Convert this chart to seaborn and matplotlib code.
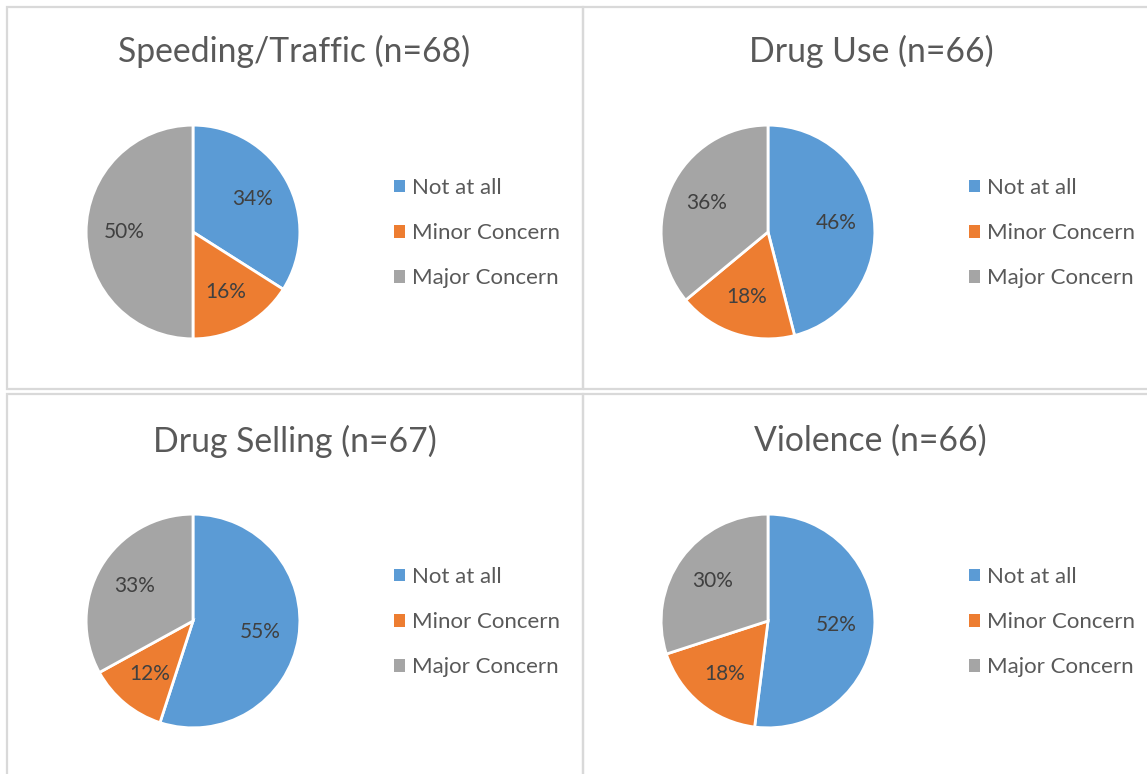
import matplotlib
matplotlib.use("Agg")
import matplotlib.pyplot as plt
import seaborn as sns
from matplotlib.patches import Rectangle, Patch

sns.set_theme(style="white")
plt.rcParams['font.family'] = ['Lato', 'DejaVu Sans']

categories = ["Not at all", "Minor Concern", "Major Concern"]
titles = ["Speeding/Traffic (n=68)", "Drug Use (n=66)", "Drug Selling (n=67)", "Violence (n=66)"]
speeding = [34, 16, 50]
drug_use = [46, 18, 36]
drug_selling = [55, 12, 33]
violence = [52, 18, 30]
series = [speeding, drug_use, drug_selling, violence]

colors = ["#5B9BD5", "#ED7D31", "#A5A5A5"]
sns.set_palette(colors)

W, H = 1147, 774
fig = plt.figure(figsize=(W / 100, H / 100), dpi=100)
fig.patch.set_facecolor("white")

def fx(px):
    return px / W

def fy(py):
    return 1 - py / H

# panel borders
border = "#D9D9D9"
panels = [(7, 7, 583, 389), (583, 7, 1160, 389), (7, 394, 583, 790), (583, 394, 1160, 790)]
for (x0, y0, x1, y1) in panels:
    fig.patches.append(Rectangle((fx(x0), fy(y1)), fx(x1) - fx(x0), fy(y0) - fy(y1),
                                 transform=fig.transFigure, fill=False,
                                 edgecolor=border, linewidth=1.6, zorder=0))

centers = [(193, 232), (768, 232), (193, 621), (768, 621)]
title_pos = [(294, 51), (871, 51), (295, 441), (870, 441)]
R = 109

for i, (vals, title) in enumerate(zip(series, titles)):
    cx, cy = centers[i]
    ax = fig.add_axes([fx(cx - R), fy(cy + R), fx(2 * R), (2 * R) / H])
    wedges, texts, autotexts = ax.pie(
        vals, colors=colors, startangle=90, counterclock=False,
        autopct=lambda p: f"{p:.0f}%", pctdistance=0.64,
        wedgeprops=dict(edgecolor="white", linewidth=2),
        textprops=dict(color="#404040", fontsize=15))
    ax.set_xlim(-1.02, 1.02)
    ax.set_ylim(-1.02, 1.02)
    ax.set_aspect("equal")
    ax.axis("off")
    tx, ty = title_pos[i]
    fig.text(fx(tx), fy(ty), title, ha="center", va="center", fontsize=24.3, color="#595959")
    handles = [Patch(facecolor=c, edgecolor="none") for c in colors]
    leg = fig.legend(handles, categories, loc="upper left",
                     bbox_to_anchor=(fx(cx + 201), fy(cy - 54)), frameon=False,
                     fontsize=16, labelcolor="#595959", handlelength=0.5,
                     handleheight=0.5, handletextpad=0.3, labelspacing=1.13,
                     borderpad=0, borderaxespad=0)

fig.savefig("out.png", dpi=100, facecolor="white")
